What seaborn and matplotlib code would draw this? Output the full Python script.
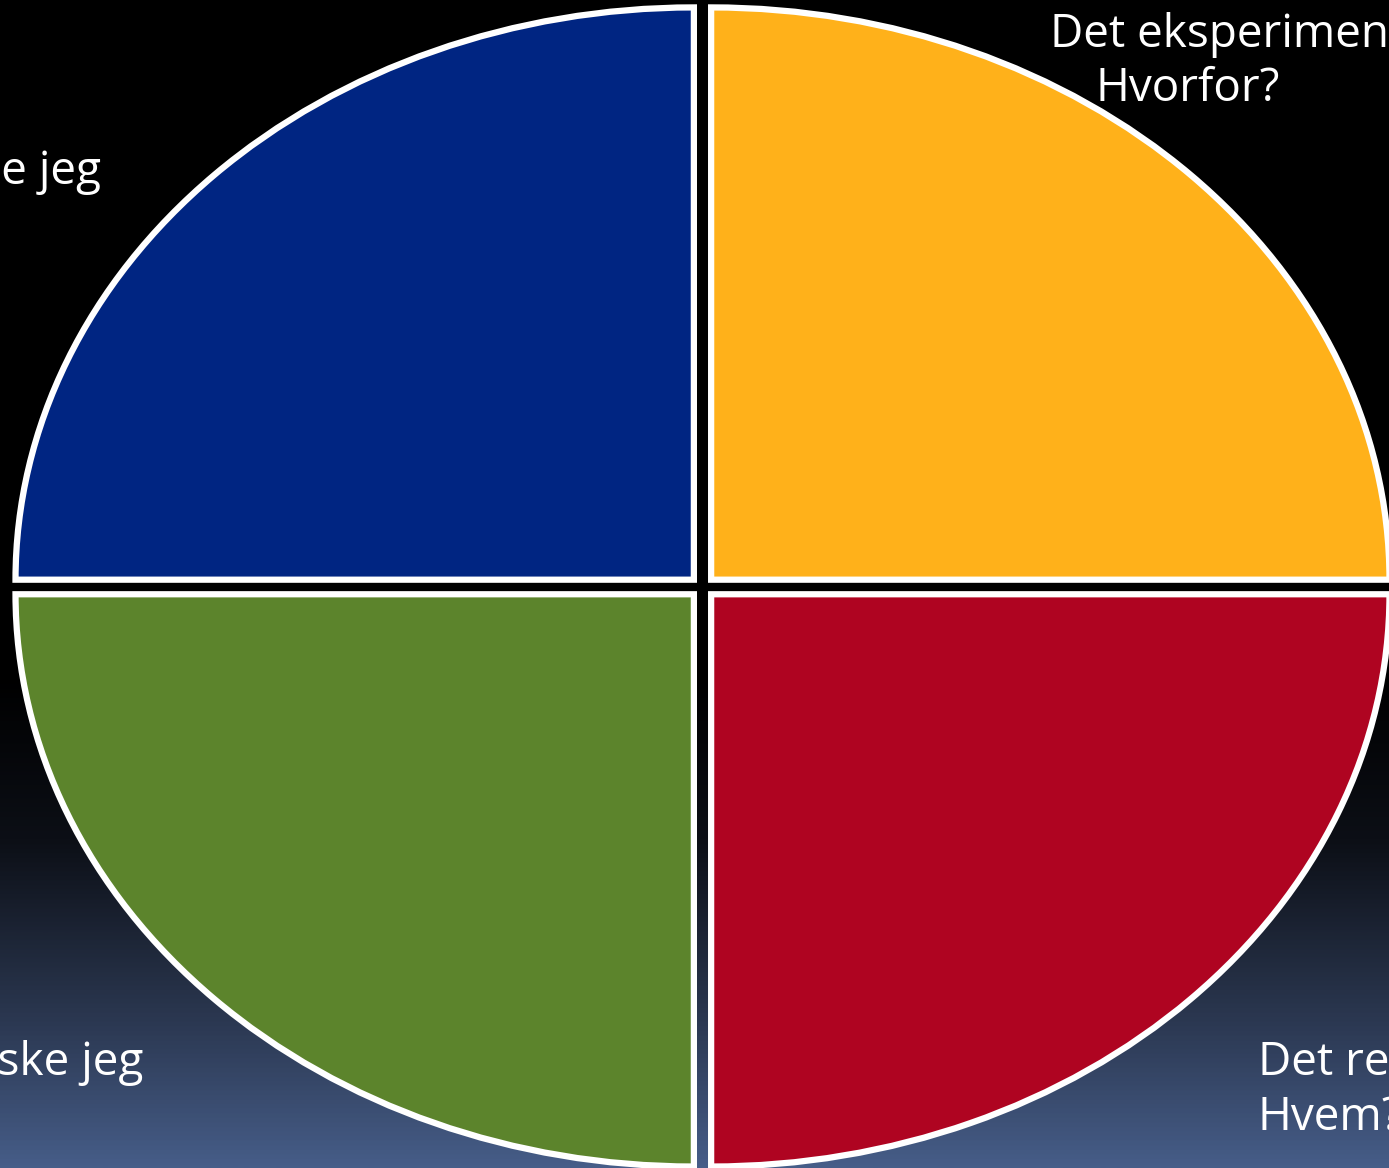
import numpy as np
import matplotlib
matplotlib.use("Agg")
import matplotlib.pyplot as plt
import seaborn as sns
from matplotlib.colors import LinearSegmentedColormap

# data
kvadranter = ["Det eksperimenterende jeg", "Det tenkende jeg", "Det praktiske jeg", "Det refleksive jeg"]
andeler = [1, 1, 1, 1]
farger = ["#FFB11A", "#002582", "#5C842C", "#AF0421"]
sporsmal = ["Hvorfor?", "", "", "Hvem?"]

sns.set_theme(style="white")
plt.rcParams['font.family'] = ['Open Sans', 'DejaVu Sans']

fig = plt.figure(figsize=(13.89, 11.68), dpi=100)

# bakgrunn med gradient (svart -> blaagraa nederst)
bg = fig.add_axes([0, 0, 1, 1])
bg_cmap = LinearSegmentedColormap.from_list(
    "bg", [(0.0, "#000000"), (0.58, "#000000"), (0.72, "#0c0f16"),
           (0.88, "#2c3953"), (1.0, "#465d88")])
grad = np.linspace(0, 1, 512).reshape(-1, 1)
bg.imshow(grad, aspect="auto", cmap=bg_cmap, extent=[0, 1, 0, 1], origin="upper")
bg.set_axis_off()

ax = fig.add_axes([0, 0, 1, 1])
ax.set_facecolor("none")
ax.pie(andeler, colors=farger, startangle=0, counterclock=True,
       explode=[0.018] * 4,
       wedgeprops=dict(edgecolor="white", linewidth=4.5))
ax.set_aspect("auto")
ax.set_xlim(-1.0356, 1.012)
ax.set_ylim(-1.0153, 1.0257)
ax.set_axis_off()

fs = 33
# etiketter (delvis utenfor bildet, som i originalen)
fig.text(1050 / 1389, 1 - 47 / 1168, kvadranter[0], color="white", fontsize=fs, ha="left", va="baseline")
fig.text(1095 / 1389, 1 - 101 / 1168, sporsmal[0], color="white", fontsize=fs, ha="left", va="baseline")
fig.text(101 / 1389, 1 - 184 / 1168, kvadranter[1], color="white", fontsize=fs, ha="right", va="baseline")
fig.text(143 / 1389, 1 - 1075 / 1168, kvadranter[2], color="white", fontsize=fs, ha="right", va="baseline")
fig.text(1258 / 1389, 1 - 1075 / 1168, kvadranter[3], color="white", fontsize=fs, ha="left", va="baseline")
fig.text(1258 / 1389, 1 - 1130 / 1168, sporsmal[3], color="white", fontsize=fs, ha="left", va="baseline")

fig.savefig("out.png", dpi=100)
